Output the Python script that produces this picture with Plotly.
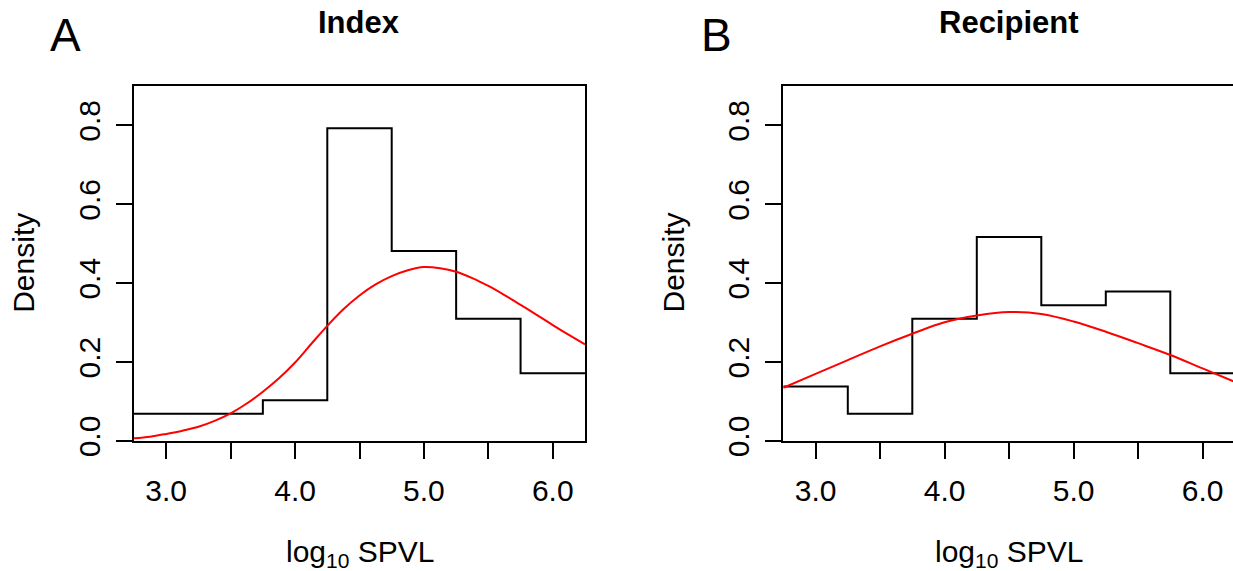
import plotly.graph_objects as go

# ---------------- data ----------------
bin_edges = [2.75, 3.25, 3.75, 4.25, 4.75, 5.25, 5.75, 6.25]
index_density = [0.069, 0.069, 0.103, 0.793, 0.482, 0.310, 0.172]
recipient_density = [0.138, 0.069, 0.310, 0.517, 0.344, 0.379, 0.172]

index_curve_x = [2.75, 2.875, 3.0, 3.125, 3.25, 3.375, 3.5, 3.625, 3.75, 3.875, 4.0, 4.125,
                 4.25, 4.375, 4.5, 4.625, 4.75, 4.875, 5.0, 5.125, 5.25, 5.375, 5.5, 5.625,
                 5.75, 5.875, 6.0, 6.125, 6.25]
index_curve_y = [0.007, 0.011, 0.018, 0.026, 0.036, 0.051, 0.070, 0.095, 0.125, 0.159, 0.199, 0.246,
                 0.292, 0.334, 0.369, 0.397, 0.418, 0.433, 0.441, 0.438, 0.429, 0.413, 0.393, 0.370,
                 0.345, 0.320, 0.294, 0.269, 0.245]

recipient_curve_x = [2.75, 3.0, 3.25, 3.5, 3.75, 4.0, 4.25, 4.5, 4.75, 5.0, 5.25, 5.5, 5.75, 6.0, 6.25]
recipient_curve_y = [0.135, 0.170, 0.205, 0.240, 0.272, 0.301, 0.318, 0.327, 0.322, 0.303, 0.277,
                     0.248, 0.218, 0.184, 0.150]

x_tick_vals = [3.0, 3.5, 4.0, 4.5, 5.0, 5.5, 6.0]
x_tick_text = ["3.0", "", "4.0", "", "5.0", "", "6.0"]
y_tick_vals = [0.0, 0.2, 0.4, 0.6, 0.8]
y_tick_text = ["0.0", "0.2", "0.4", "0.6", "0.8"]

panel_titles = ["Index", "Recipient"]
panel_letters = ["A", "B"]
x_title = "log<sub>10</sub> SPVL"
y_title = "Density"

# ---------------- figure ----------------
W, H = 1233, 571
FONT = "Liberation Sans, Arial, sans-serif"

fig = go.Figure()

def step_xy(edges, dens):
    return list(edges), list(dens) + [dens[-1]]

hx, hy = step_xy(bin_edges, index_density)
fig.add_trace(go.Scatter(x=hx, y=hy, mode="lines", line=dict(color="black", width=2, shape="hv"),
                         xaxis="x", yaxis="y", showlegend=False, hoverinfo="skip"))
fig.add_trace(go.Scatter(x=index_curve_x, y=index_curve_y, mode="lines",
                         line=dict(color="#ff0000", width=2, shape="spline", smoothing=1.0),
                         xaxis="x", yaxis="y", showlegend=False))

hx2, hy2 = step_xy(bin_edges, recipient_density)
fig.add_trace(go.Scatter(x=hx2, y=hy2, mode="lines", line=dict(color="black", width=2, shape="hv"),
                         xaxis="x2", yaxis="y2", showlegend=False, hoverinfo="skip"))
fig.add_trace(go.Scatter(x=recipient_curve_x, y=recipient_curve_y, mode="lines",
                         line=dict(color="#ff0000", width=2, shape="spline", smoothing=1.0),
                         xaxis="x2", yaxis="y2", showlegend=False))

y_dom = [1 - 441 / H, 1 - 86 / H]
xa_dom = [134 / W, 585 / W]
xb_dom = [783.3 / W, 1.0]
xb_end = 2.75 + (W - 783.3) / 129.0

common_x = dict(showgrid=False, zeroline=False, showline=True, linecolor="black", linewidth=2,
                ticks="outside", ticklen=16, tickwidth=2, tickcolor="black",
                tickvals=x_tick_vals, ticktext=x_tick_text,
                tickfont=dict(family=FONT, size=30, color="black"),
                ticklabelstandoff=6, automargin=False, fixedrange=True)
common_y = dict(showgrid=False, zeroline=False, showline=True, linecolor="black", linewidth=2,
                ticks="outside", ticklen=16, tickwidth=2, tickcolor="black",
                tickvals=y_tick_vals, ticktext=y_tick_text, tickangle=-90,
                tickfont=dict(family=FONT, size=30, color="black"),
                ticklabelstandoff=4, range=[0, 0.9], automargin=False, fixedrange=True)

fig.update_layout(
    width=W, height=H,
    margin=dict(l=0, r=0, t=0, b=0),
    paper_bgcolor="white", plot_bgcolor="white",
    xaxis=dict(domain=xa_dom, range=[2.75, 6.25], anchor="y", mirror=True, **common_x),
    yaxis=dict(domain=y_dom, anchor="x", mirror=True, **common_y),
    xaxis2=dict(domain=xb_dom, range=[2.75, xb_end], anchor="y2", mirror=True, **common_x),
    yaxis2=dict(domain=y_dom, anchor="x2", mirror=False, **common_y),
)

ann = []
def px(xp):
    return xp / W
def py(yp):
    return 1 - yp / H

letter_pos = [(65.6, 35), (716, 35)]
title_pos = [(359, 22.5), (1009.4, 22.5)]
xtitle_pos = [(360, 553), (1009, 553)]
ytitle_pos = [(23.3, 262.5), (673, 262.5)]

for i in range(2):
    ann.append(dict(text=panel_letters[i], x=px(letter_pos[i][0]), y=py(letter_pos[i][1]),
                    xref="paper", yref="paper", xanchor="center", yanchor="middle", showarrow=False,
                    font=dict(family=FONT, size=46, color="black")))
    ann.append(dict(text="<b>%s</b>" % panel_titles[i], x=px(title_pos[i][0]), y=py(title_pos[i][1]),
                    xref="paper", yref="paper", xanchor="center", yanchor="middle", showarrow=False,
                    font=dict(family=FONT, size=31, color="black")))
    ann.append(dict(text=x_title, x=px(xtitle_pos[i][0]), y=py(xtitle_pos[i][1]),
                    xref="paper", yref="paper", xanchor="center", yanchor="middle", showarrow=False,
                    font=dict(family=FONT, size=30, color="black")))
    ann.append(dict(text=y_title, x=px(ytitle_pos[i][0]), y=py(ytitle_pos[i][1]), textangle=-90,
                    xref="paper", yref="paper", xanchor="center", yanchor="middle", showarrow=False,
                    font=dict(family=FONT, size=30, color="black")))

fig.update_layout(annotations=ann)
fig.write_html("out.html", config={"displayModeBar": False},
               post_script="document.body.style.margin='0px';document.body.style.overflow='hidden';")
